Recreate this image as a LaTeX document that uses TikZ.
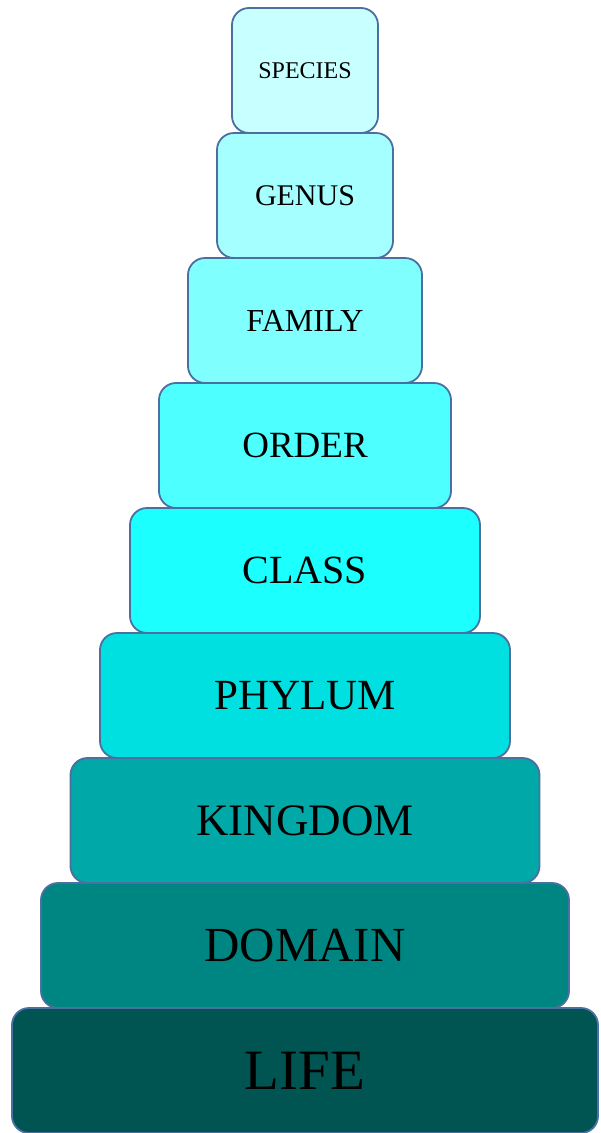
\documentclass[tikz,border=0pt]{standalone}
\usepackage{fontspec}
\setmainfont{Liberation Serif}
\usepackage{xcolor}
\usetikzlibrary{positioning}

\definecolor{rimblue}{HTML}{4A6FA0}
\definecolor{speciesfill}{HTML}{C8FFFF}
\definecolor{genusfill}{HTML}{A6FFFF}
\definecolor{familyfill}{HTML}{80FFFF}
\definecolor{orderfill}{HTML}{4DFFFF}
\definecolor{classfill}{HTML}{1CFFFF}
\definecolor{phylumfill}{HTML}{00E0E0}
\definecolor{kingdomfill}{HTML}{00A8A8}
\definecolor{domainfill}{HTML}{008682}
\definecolor{lifefill}{HTML}{005452}

\newcommand{\tsize}[1]{\fontsize{#1}{#1}\selectfont}

\begin{document}
\begin{tikzpicture}[x=1pt,y=1pt,node distance=0pt,
    taxon/.style={draw=rimblue,line width=1.8pt,rounded corners=17pt,
      minimum height=125pt,inner sep=0pt,outer sep=0pt,text=black}]
    \useasboundingbox (0,0) rectangle (601,-1133);

    \node[taxon,fill=speciesfill,minimum width=146pt,font=\tsize{24}] (species) at (305,-70.5) {SPECIES};
    \node[taxon,fill=genusfill,minimum width=176pt,font=\tsize{30}] (genus) [below=of species] {GENUS};
    \node[taxon,fill=familyfill,minimum width=234pt,font=\tsize{32}] (family) [below=of genus] {FAMILY};
    \node[taxon,fill=orderfill,minimum width=292pt,font=\tsize{37}] (order) [below=of family] {ORDER};
    \node[taxon,fill=classfill,minimum width=350pt,font=\tsize{40}] (class) [below=of order] {CLASS};
    \node[taxon,fill=phylumfill,minimum width=410pt,font=\tsize{43}] (phylum) [below=of class] {PHYLUM};
    \node[taxon,fill=kingdomfill,minimum width=469pt,font=\tsize{45}] (kingdom) [below=of phylum] {KINGDOM};
    \node[taxon,fill=domainfill,minimum width=528pt,font=\tsize{49}] (domain) [below=of kingdom] {DOMAIN};
    \node[taxon,fill=lifefill,minimum width=586pt,font=\tsize{57}] (life) [below=of domain] {LIFE};
\end{tikzpicture}
\end{document}
